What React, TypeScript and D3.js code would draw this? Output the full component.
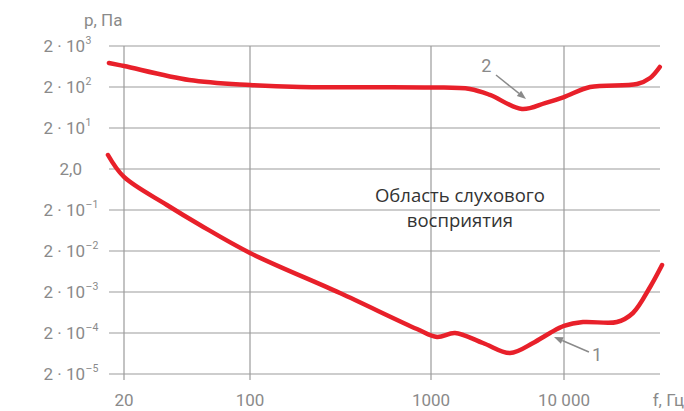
import React from "react";
import * as d3 from "d3";

// Threshold of hearing (curve 1) and threshold of pain (curve 2): frequency (Hz) vs pressure (Pa)
const curve1Freq = [16.3, 20, 34.6, 52.8, 100, 314, 837, 1110, 1515, 2460, 3930, 5850, 7850, 10000, 13900, 25000, 33000, 44400, 54600];
const curve1Pa = [4.39, 1.28, 0.265, 0.0861, 0.0179, 0.00189, 0.00025, 0.00016, 0.0002, 0.000114, 0.000065, 0.000114, 0.0002, 0.000297, 0.00037, 0.00037, 0.000615, 0.00265, 0.0091];

const curve2Freq = [16.5, 20, 46, 100, 189, 1000, 1960, 2780, 4830, 7200, 10000, 15700, 35400, 44400, 52500];
const curve2Pa = [770, 650, 297, 224, 200, 195, 179, 128, 58, 81, 114, 200, 237, 332, 615];

const xTickValues = [20, 100, 1000, 10000];
const xTickLabels = ["20", "100", "1000", "10 000"];
const yTickExponents = [3, 2, 1, 0, -1, -2, -3, -4, -5];

const yAxisTitle = "p, Па";
const xAxisTitle = "f, Гц";
const regionLabel = ["Область слухового", "восприятия"];

// annotations in data space: label position, arrow tail, arrow tip
const annotation2 = { label: "2", lf: 2600, lp: 465, tf: 3080, tp: 393, hf: 5180, hp: 102 };
const annotation1 = { label: "1", lf: 17700, lp: 4.2e-5, tf: 15400, tp: 6.9e-5, hf: 8410, hp: 1.6e-4 };
const regionPos = { f: 1650, p1: 0.313, p2: 0.077 };

const W = 684;
const H = 411;
const gridColor = "#9b9b9b";
const textGray = "#8a8a8a";
const red = "#e8202a";
const font = "Roboto, 'DejaVu Sans', sans-serif";

export default function App() {
  // The original frequency axis is schematic: piecewise logarithmic
  const xPiece = d3.scaleLinear().domain([Math.log10(20), 2, 3, 4]).range([124, 250, 431, 564]);
  const x = (f: number) => xPiece(Math.log10(f));
  const y = d3.scaleLog().domain([2e-5, 2e3]).range([374, 46]);
  const left = 109;
  const right = 660;

  const line = d3
    .line<[number, number]>()
    .x((d) => x(d[0]))
    .y((d) => y(d[1]))
    .curve(d3.curveCatmullRom.alpha(0.5));

  const c1 = curve1Freq.map((f, i) => [f, curve1Pa[i]] as [number, number]);
  const c2 = curve2Freq.map((f, i) => [f, curve2Pa[i]] as [number, number]);

  const arrow = (a: typeof annotation1) => {
    const x1 = x(a.tf), y1 = y(a.tp), x2 = x(a.hf), y2 = y(a.hp);
    const ang = Math.atan2(y2 - y1, x2 - x1);
    const len = 9, half = 3.5;
    const bx = x2 - len * Math.cos(ang), by = y2 - len * Math.sin(ang);
    const p1 = [bx + half * Math.sin(ang), by - half * Math.cos(ang)];
    const p2 = [bx - half * Math.sin(ang), by + half * Math.cos(ang)];
    return (
      <g>
        <line x1={x1} y1={y1} x2={bx} y2={by} stroke={textGray} strokeWidth={1.5} />
        <polygon points={`${x2},${y2} ${p1[0]},${p1[1]} ${p2[0]},${p2[1]}`} fill={textGray} />
        <text x={x(a.lf)} y={y(a.lp)} textAnchor="middle" fontSize={18} fill={textGray} fontFamily={font}>
          {a.label}
        </text>
      </g>
    );
  };

  return (
    <svg width={W} height={H} style={{ position: "absolute", left: 0, top: 0, background: "#fff" }}>
      {/* horizontal grid */}
      {yTickExponents.map((e) => (
        <line key={"h" + e} x1={left} x2={right} y1={y(2 * Math.pow(10, e))} y2={y(2 * Math.pow(10, e))} stroke={gridColor} strokeWidth={1.2} />
      ))}
      {/* vertical grid */}
      {xTickValues.map((f) => (
        <line key={"v" + f} x1={x(f)} x2={x(f)} y1={y(2e3)} y2={y(2e-5) + 6} stroke={gridColor} strokeWidth={1.2} />
      ))}
      {/* y labels */}
      {yTickExponents.map((e) => {
        const yy = y(2 * Math.pow(10, e)) + 6;
        if (e === 0) {
          return (
            <text key={"yl" + e} x={82} y={yy} textAnchor="end" fontSize={17} fill={textGray} fontFamily={font}>
              2,0
            </text>
          );
        }
        return (
          <g key={"yl" + e}>
            <text x={85} y={yy} textAnchor="end" fontSize={17} fill={textGray} fontFamily={font}>
              2 · 10
            </text>
            <text x={85.5} y={yy - 8} textAnchor="start" fontSize={10.5} fill={textGray} fontFamily={font}>
              {e < 0 ? "–" + Math.abs(e) : String(e)}
            </text>
          </g>
        );
      })}
      {/* x labels */}
      {xTickValues.map((f, i) => (
        <text key={"xl" + f} x={x(f)} y={406} textAnchor="middle" fontSize={17} fill={textGray} fontFamily={font}>
          {xTickLabels[i]}
        </text>
      ))}
      <text x={84} y={26} fontSize={17} fill={textGray} fontFamily={font}>
        {yAxisTitle}
      </text>
      <text x={684} y={406} textAnchor="end" fontSize={17} fill={textGray} fontFamily={font}>
        {xAxisTitle}
      </text>
      {/* curves */}
      <path d={line(c2) || ""} fill="none" stroke={red} strokeWidth={4.5} strokeLinecap="round" strokeLinejoin="round" />
      <path d={line(c1) || ""} fill="none" stroke={red} strokeWidth={4.5} strokeLinecap="round" strokeLinejoin="round" />
      {/* annotations */}
      {arrow(annotation2)}
      {arrow(annotation1)}
      <text x={x(regionPos.f)} y={y(regionPos.p1)} textAnchor="middle" fontSize={18.5} fill="#333" fontFamily="'Open Sans', sans-serif">
        {regionLabel[0]}
      </text>
      <text x={x(regionPos.f)} y={y(regionPos.p2)} textAnchor="middle" fontSize={18.5} fill="#333" fontFamily="'Open Sans', sans-serif">
        {regionLabel[1]}
      </text>
    </svg>
  );
}
